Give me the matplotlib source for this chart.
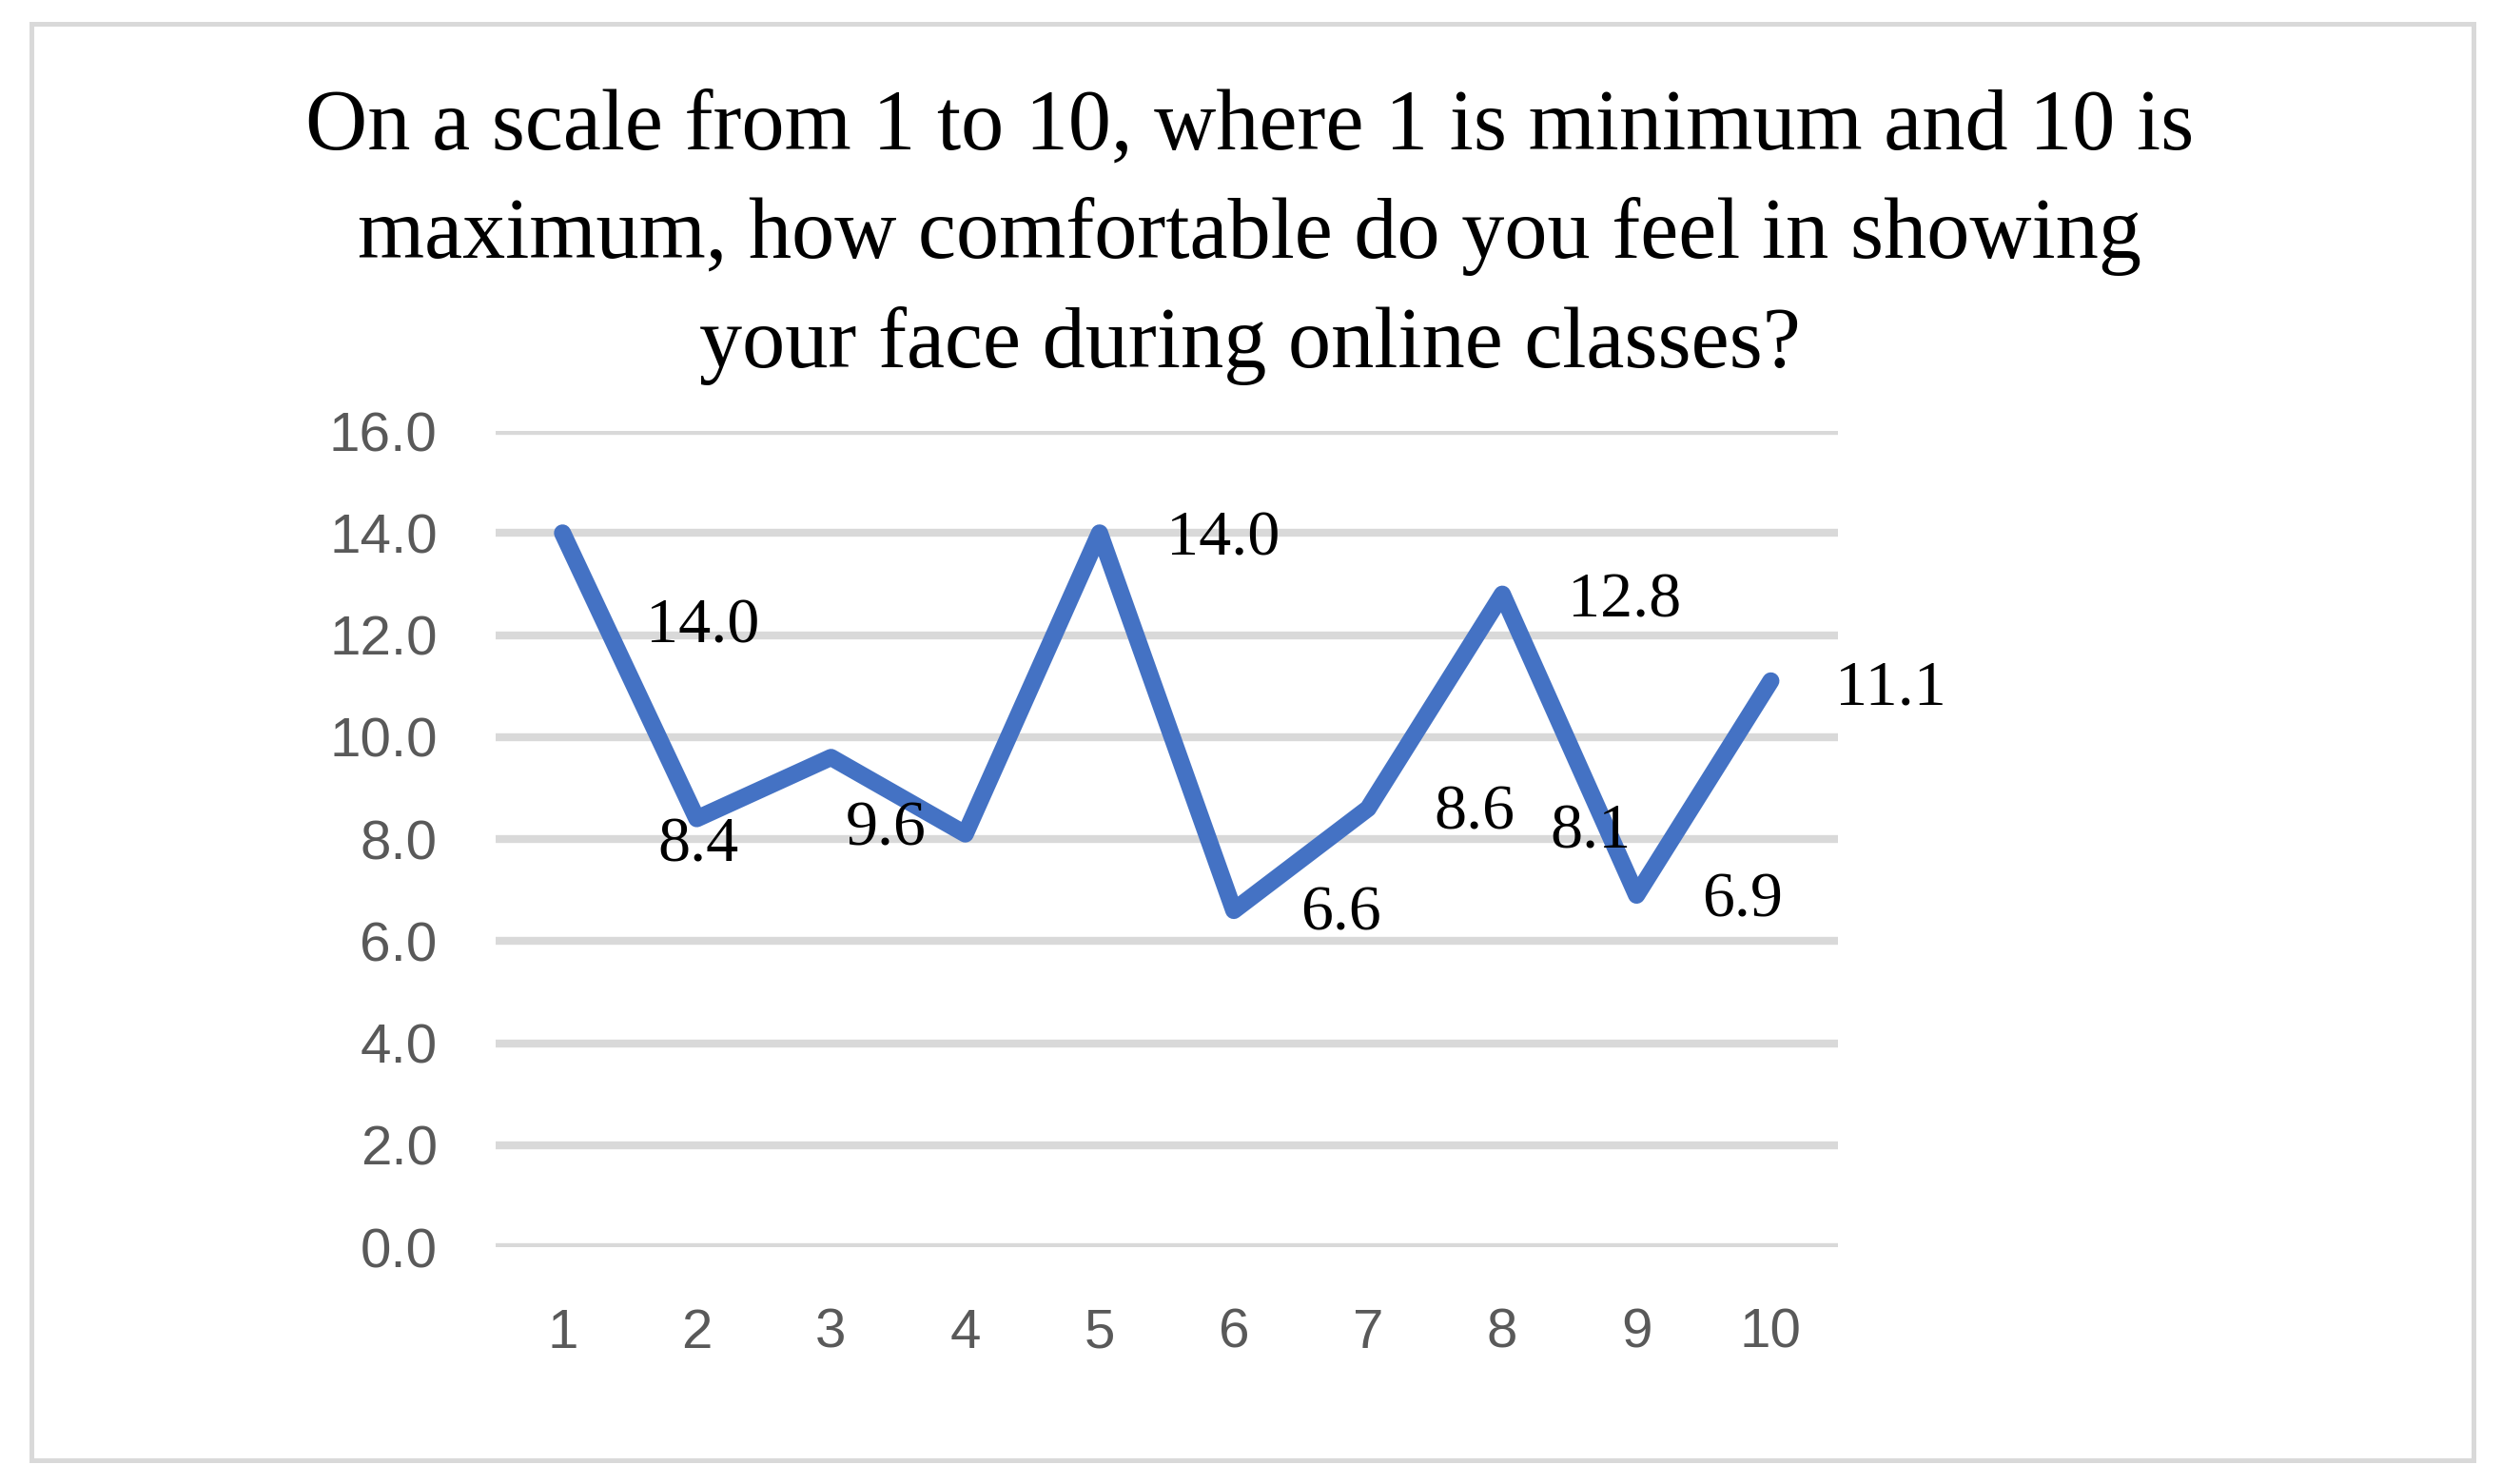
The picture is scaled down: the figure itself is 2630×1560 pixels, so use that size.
import matplotlib.pyplot as plt
from matplotlib.patches import Rectangle

# Datos del grafico
categorias = [1, 2, 3, 4, 5, 6, 7, 8, 9, 10]
valores = [14.0, 8.4, 9.6, 8.1, 14.0, 6.6, 8.6, 12.8, 6.9, 11.1]
etiquetas = ["14.0", "8.4", "9.6", "8.1", "14.0", "6.6", "8.6", "12.8", "6.9", "11.1"]
y_ticks = [0, 2, 4, 6, 8, 10, 12, 14, 16]

# Posiciones de las etiquetas (como estan en el original, algo desplazadas)
etiqueta_x = [2.045, 2.01, 3.41, 8.66, 5.92, 6.80, 7.79, 8.91, 9.79, 10.89]
etiqueta_y = [12.16, 7.875, 8.19, 8.125, 13.875, 6.53, 8.5, 12.66, 6.78, 10.94]

titulo = ("On a scale from 1 to 10, where 1 is minimum and 10 is\n"
          "maximum, how comfortable do you feel in showing\n"
          "your face during online classes?")

fig = plt.figure(figsize=(26.3, 15.6), dpi=100)
ax = fig.add_axes([0.198, 0.1596, 0.7346 - 0.198, 0.7096 - 0.1596])

# Marco gris alrededor del grafico
fig.patches.append(Rectangle((33 / 2630, 1 - 1535 / 1560), (2600 - 33) / 2630, (1535 - 25) / 1560,
                             transform=fig.transFigure, fill=False, edgecolor='#D9D9D9', linewidth=3.6))

ax.plot(categorias, valores, color='#4472C4', linewidth=13,
        solid_capstyle='round', solid_joinstyle='round', zorder=3)

for x, y, txt in zip(etiqueta_x, etiqueta_y, etiquetas):
    ax.text(x, y, txt, ha='center', va='center', fontsize=49,
            family='Liberation Serif', color='black', zorder=4)

ax.set_xlim(0.5, 10.5)
ax.set_ylim(0, 16)
ax.set_xticks(categorias)
ax.set_xticklabels([str(c) for c in categorias])
ax.set_yticks(y_ticks)
ax.set_yticklabels([f"{v:.1f}" for v in y_ticks])
ax.tick_params(axis='both', length=0, labelsize=42, labelcolor='#595959')
ax.tick_params(axis='x', pad=46)
ax.tick_params(axis='y', pad=44)
for lbl in ax.get_xticklabels() + ax.get_yticklabels():
    lbl.set_family('Liberation Sans')

ax.grid(True, axis='y', color='#D9D9D9', linewidth=6, zorder=0)
ax.set_axisbelow(True)
for s in ax.spines.values():
    s.set_visible(False)

fig.text(0.4995, 1 - 249 / 1560, titulo, ha='center', va='center', fontsize=65,
         family='Liberation Serif', linespacing=1.5, color='black')

plt.savefig('out.png', dpi=100)
plt.close()
